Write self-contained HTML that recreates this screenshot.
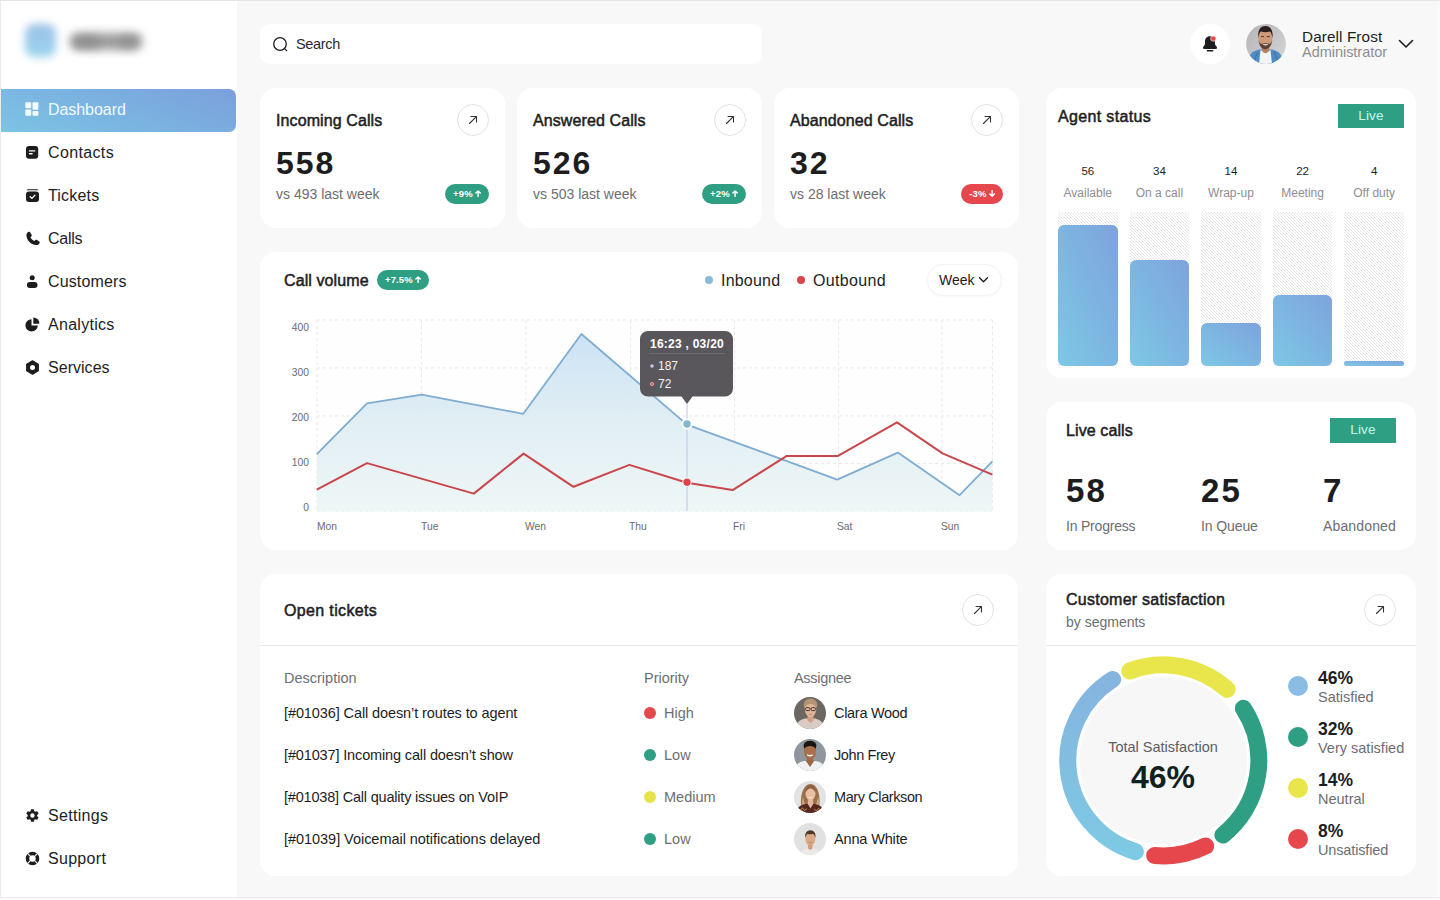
<!DOCTYPE html>
<html lang="en">
<head>
<meta charset="utf-8">
<title>Dashboard</title>
<style>
*{box-sizing:border-box;margin:0;padding:0}
html,body{width:1440px;height:900px;overflow:hidden}
body{font-family:"Liberation Sans",sans-serif;background:#f8f8f8;color:#1d1d1f;position:relative}
.abs{position:absolute}
.t{position:absolute;white-space:nowrap;line-height:1}
/* sidebar */
#side{position:absolute;left:0;top:0;width:237px;height:900px;background:#fff}
.nav{position:absolute;left:0;width:236px;height:43px}
.nav.active{background:linear-gradient(20deg,#7cc4e4 0%,#7ab0e0 55%,#7c9fdb 100%);border-radius:0 7px 7px 0}
.nav svg{position:absolute;left:25px;top:13px;width:15px;height:15px}
.nav span{position:absolute;left:48px;top:11px;font-size:16px;line-height:19px;color:#1d1d1f;white-space:nowrap;letter-spacing:.1px}
.nav.active span{color:#f1fbff}
/* cards */
.card{position:absolute;background:#fff;border-radius:16px}
.h{font-weight:400;font-size:16px;color:#1d1d1f;-webkit-text-stroke:.5px #1d1d1f;letter-spacing:.1px}
.big{font-weight:700;font-size:32px;color:#1d1d1f;letter-spacing:2px}
.sub{font-size:14px;color:#6d6d72}
.circ{position:absolute;width:32px;height:32px;border-radius:50%;border:1px solid #e3e3e3;background:#fff}
.circ svg{position:absolute;left:9px;top:9px;width:12px;height:12px}
.pill{position:absolute;height:20px;border-radius:10px;color:#fff;font-size:9.500px;font-weight:700;line-height:20px;text-align:center;white-space:nowrap;letter-spacing:.1px}
.arw{display:inline-block;width:6.200px;height:7.100px;margin-left:2px;vertical-align:-0.300px}
.green{background:#2f9f83}
.red{background:#e6474d}
.live{position:absolute;background:#2f9f83;color:#c4f7e8;font-size:13.600px;text-align:center;letter-spacing:.1px}
</style>
</head>
<body>
<!-- frame lines -->
<div class="abs" style="left:0;top:0;width:1440px;height:1px;background:#e6e6e6;z-index:9"></div>

<div class="abs" style="left:0;top:897px;width:1440px;height:1px;background:#ececec;z-index:9"></div><div class="abs" style="left:0;top:898px;width:1440px;height:2px;background:#fbfbfb;z-index:9"></div><div class="abs" style="left:1438px;top:0;width:2px;height:900px;background:#fbfbfb;z-index:8"></div>
<!-- SIDEBAR -->
<div id="side">
  <div class="abs" style="left:0;top:0;width:1px;height:900px;background:#ececec;z-index:5"></div>
  <!-- blurred logo -->
  <div class="abs" style="left:25px;top:24px;width:31px;height:33px;border-radius:9px;background:linear-gradient(180deg,#9cc0e7,#9ad4ef);filter:blur(4.200px)"></div>
  <div class="abs" style="left:70px;top:33px;width:72px;height:17px;border-radius:7px;background:#9c9c9c;filter:blur(5px)"></div><div class="abs" style="left:74px;top:36px;width:26px;height:12px;border-radius:6px;background:#8a8a8a;filter:blur(4px);opacity:.7"></div><div class="abs" style="left:118px;top:36px;width:20px;height:12px;border-radius:6px;background:#8a8a8a;filter:blur(4px);opacity:.6"></div>

  <div class="nav active" style="top:89px">
    <svg viewBox="0 0 15 15"><g fill="#f1fbff"><rect x="0.3" y="0.3" width="5.900" height="5.900" rx="1"/><rect x="7.500" y="0.3" width="5.900" height="7.400" rx="1"/><rect x="0.3" y="7.500" width="5.900" height="6.200" rx="1"/><rect x="7.500" y="9" width="5.900" height="4.700" rx="1"/></g></svg>
    <span style="letter-spacing:-0.06px">Dashboard</span>
  </div>
  <div class="nav" style="top:132px">
    <svg viewBox="0 0 15 15"><rect x="1" y="1" width="12.200" height="12.700" rx="3" fill="#1d1d1f"/><rect x="3.800" y="5.200" width="6.600" height="1.400" rx=".7" fill="#fff"/><rect x="3.800" y="8" width="4" height="1.400" rx=".7" fill="#fff"/></svg>
    <span style="letter-spacing:0.36px">Contacts</span>
  </div>
  <div class="nav" style="top:175px">
    <svg viewBox="0 0 15 15"><path d="M3 1.2h9a2 2 0 0 1 1.6 1H1.4a2 2 0 0 1 1.6-1z" fill="#1d1d1f"/><rect x="1" y="3.4" width="13" height="10.6" rx="3" fill="#1d1d1f"/><path d="M5.2 8.8l1.7 1.6 3-3.2" stroke="#fff" stroke-width="1.3" fill="none" stroke-linecap="round" stroke-linejoin="round"/></svg>
    <span style="letter-spacing:0.19px">Tickets</span>
  </div>
  <div class="nav" style="top:218px">
    <svg viewBox="0 0 24 24" style="left:23.500px;top:11.500px;width:17.500px;height:17.500px"><path fill="#1d1d1f" d="M6.6 2.5c.6-.3 1.300-.1 1.700.5l2.200 3.600c.3.600.2 1.300-.2 1.800L8.800 10c1.200 2.200 3 4 5.200 5.200l1.600-1.500c.5-.4 1.200-.5 1.800-.2l3.600 2.200c.6.400.8 1.100.5 1.700-.9 2-2.600 3.600-5 3.300C9.300 19.800 4.200 14.700 3.300 7.500 3 5.100 4.600 3.400 6.600 2.500z"/></svg>
    <span style="letter-spacing:-0.24px">Calls</span>
  </div>
  <div class="nav" style="top:261px">
    <svg viewBox="0 0 15 15"><circle cx="7.200" cy="3.700" r="2.500" fill="#1d1d1f"/><rect x="1.900" y="8" width="10.600" height="6" rx="3" fill="#1d1d1f"/></svg>
    <span style="letter-spacing:0.13px">Customers</span>
  </div>
  <div class="nav" style="top:304px">
    <svg viewBox="0 0 15 15"><path d="M6.500 2.200A6.200 6.200 0 1 0 12.800 8.500H6.500z" fill="#1d1d1f"/><path d="M8.300.6A6 6 0 0 1 14.400 6.700H8.300z" fill="#1d1d1f"/></svg>
    <span style="letter-spacing:0.28px">Analytics</span>
  </div>
  <div class="nav" style="top:347px">
    <svg viewBox="0 0 15 15"><path d="M7.500.8l5.800 3.350v6.700L7.500 14.200 1.700 10.850v-6.700z" fill="#1d1d1f" stroke="#1d1d1f" stroke-width="1.2" stroke-linejoin="round"/><circle cx="7.500" cy="7.500" r="2.500" fill="#fff"/></svg>
    <span style="letter-spacing:0.03px">Services</span>
  </div>
  <div class="nav" style="top:795px">
    <svg viewBox="0 0 24 24"><path fill="#1d1d1f" d="M19.400 13c.04-.33.060-.66.060-1s-.02-.67-.06-1l2.100-1.650a.5.500 0 0 0 .12-.64l-2-3.460a.5.500 0 0 0-.610-.22l-2.490 1a7.300 7.300 0 0 0-1.730-1L14.400 2.420A.5.500 0 0 0 13.900 2h-4a.5.500 0 0 0-.5.420L9.020 5.070c-.63.260-1.200.6-1.730 1l-2.490-1a.5.500 0 0 0-.61.220l-2 3.460a.5.500 0 0 0 .12.640L4.410 11c-.04.330-.06.660-.06 1s.02.670.06 1l-2.100 1.650a.5.500 0 0 0-.12.640l2 3.460c.12.220.39.300.61.220l2.490-1c.53.400 1.100.74 1.730 1l.38 2.650c.04.240.25.420.5.420h4c.25 0 .46-.18.500-.42l.38-2.650c.63-.26 1.200-.6 1.730-1l2.490 1c.22.080.49 0 .61-.22l2-3.460a.5.500 0 0 0-.12-.64zM11.900 15.500a3.500 3.500 0 1 1 0-7 3.500 3.500 0 0 1 0 7z"/></svg>
    <span style="letter-spacing:0.31px">Settings</span>
  </div>
  <div class="nav" style="top:838px">
    <svg viewBox="0 0 15 15"><circle cx="7.500" cy="7.500" r="5" fill="none" stroke="#1d1d1f" stroke-width="3.600"/><g stroke="#fff" stroke-width="1.100"><path d="M2.200 2.200l3 3M12.800 2.200l-3 3M2.200 12.800l3-3M12.800 12.800l-3-3"/></g></svg>
    <span style="letter-spacing:0.3px">Support</span>
  </div>
</div>

<!-- SEARCH -->
<div class="card" style="left:260px;top:24px;width:502px;height:40px;border-radius:10px">
  <svg class="abs" style="left:12px;top:12px" width="17" height="17" viewBox="0 0 17 17"><circle cx="8" cy="8" r="6.300" fill="none" stroke="#1d1d1f" stroke-width="1.300"/><path d="M12.600 12.600l2 2" stroke="#1d1d1f" stroke-width="1.300" stroke-linecap="round"/></svg>
  <div class="t" style="left:36px;top:13px;font-size:14.500px;color:#2a2a2c;letter-spacing:-.35px">Search</div>
</div>


<!-- HEADER RIGHT -->
<div class="abs" style="left:1190px;top:24px;width:40px;height:40px;border-radius:50%;background:#fff"></div>
<svg class="abs" style="left:1201px;top:34px" width="18" height="20" viewBox="0 0 18 20"><path fill="#1d1d1f" d="M9 2.200c-3 0-5 2.200-5 5v2.600c0 .9-.4 1.700-1.100 2.300-.6.500-.9 1-.9 1.600 0 .8.600 1.300 1.400 1.300h11.200c.8 0 1.400-.5 1.400-1.300 0-.6-.3-1.100-.9-1.600-.7-.6-1.100-1.400-1.100-2.300V7.200c0-2.800-2-5-5-5z"/><path d="M6.300 16.800h5.400" stroke="#1d1d1f" stroke-width="1.500" stroke-linecap="round"/><circle cx="12.300" cy="4.600" r="2.700" fill="#e5484d" stroke="#fff" stroke-width=".6"/></svg>
<!-- avatar -->
<svg class="abs" style="left:1246px;top:24px" width="40" height="40" viewBox="0 0 40 40"><defs><clipPath id="cA"><circle cx="20" cy="20" r="19.900"/></clipPath><linearGradient id="gA" x1="0" y1="0" x2="1" y2="1"><stop offset="0" stop-color="#b4b4b7"/><stop offset="1" stop-color="#d6d6d8"/></linearGradient></defs><g clip-path="url(#cA)"><rect width="40" height="40" fill="url(#gA)"/>
<path d="M2 40c0-9 4-13 11-14.500l13 0c7 1.500 11 5.500 11 14.500z" fill="#4f8bc4"/>
<path d="M8 40c.5-5 2-9 4-12M32 40c-.5-5-2-9-4-12" stroke="#3a72ab" stroke-width="1.200" fill="none"/>
<path d="M14.500 26l5 2.500 5-2.500 1.500 14h-13z" fill="#f1f3f5"/>
<path d="M15.800 21h7.400v5.500c-1 1.800-2.400 2.700-3.700 2.700s-2.700-.9-3.700-2.700z" fill="#b9805f"/>
<ellipse cx="19.400" cy="14.500" rx="7" ry="9.600" fill="#cf9a7a"/>
<path d="M12.300 14c-.9-8 2.300-12 7.100-12s8 4 7.100 12c-.5-3.500-1.400-5.600-2.600-6.400-2.800.8-6.200.8-9 0-1.200.8-2.100 2.900-2.600 6.400z" fill="#2a1f1a"/>
<path d="M12.600 16c.3 5.500 3 9.200 6.800 9.200s6.500-3.700 6.800-9.200c-.9 2.700-1.500 3.500-2.300 4-1.300-1-7.700-1-9 0-.8-.5-1.400-1.300-2.300-4z" fill="#4b3328" opacity=".85"/>
<path d="M16.600 19.800c1.800.7 3.800.7 5.600 0-.5 2.100-5.100 2.100-5.600 0z" fill="#fff"/>
<path d="M15 12.600h3M20.800 12.600h3" stroke="#2a1f1a" stroke-width=".8"/>
</g></svg>
<div class="t" style="left:1302px;top:28.600px;font-size:15.300px;color:#1d1d1f;letter-spacing:.1px">Darell Frost</div>
<div class="t" style="left:1302px;top:45px;font-size:14.500px;color:#8d8d92;letter-spacing:-.03px">Administrator</div>
<svg class="abs" style="left:1398px;top:39px" width="16" height="10" viewBox="0 0 16 10"><path d="M1.500 1.500L8 8l6.500-6.500" fill="none" stroke="#1d1d1f" stroke-width="1.600" stroke-linecap="round" stroke-linejoin="round"/></svg>

<!-- STAT CARDS -->
<div class="card" style="left:260px;top:88px;width:245px;height:140px">
  <div class="t h" style="left:16px;top:25px">Incoming Calls</div>
  <div class="circ" style="left:197px;top:16px"><svg viewBox="0 0 12 12"><path d="M2.500 9.500L9.300 2.700M4 2.500h5.500V8" fill="none" stroke="#333" stroke-width="1.100" stroke-linecap="round" stroke-linejoin="round"/></svg></div>
  <div class="t big" style="left:16px;top:59px">558</div>
  <div class="t sub" style="left:16px;top:99px">vs 493 last week</div>
  <div class="pill green" style="left:185px;top:96px;width:44px">+9%<svg class="arw" viewBox="0 0 7 8"><path d="M3.500 7.300V1.200M1 3.500L3.500 1l2.500 2.500" fill="none" stroke="#fff" stroke-width="1.600" stroke-linecap="round" stroke-linejoin="round"/></svg></div>
</div>
<div class="card" style="left:517px;top:88px;width:245px;height:140px">
  <div class="t h" style="left:16px;top:25px">Answered Calls</div>
  <div class="circ" style="left:197px;top:16px"><svg viewBox="0 0 12 12"><path d="M2.500 9.500L9.300 2.700M4 2.500h5.500V8" fill="none" stroke="#333" stroke-width="1.100" stroke-linecap="round" stroke-linejoin="round"/></svg></div>
  <div class="t big" style="left:16px;top:59px">526</div>
  <div class="t sub" style="left:16px;top:99px">vs 503 last week</div>
  <div class="pill green" style="left:185px;top:96px;width:44px">+2%<svg class="arw" viewBox="0 0 7 8"><path d="M3.500 7.300V1.200M1 3.500L3.500 1l2.500 2.500" fill="none" stroke="#fff" stroke-width="1.600" stroke-linecap="round" stroke-linejoin="round"/></svg></div>
</div>
<div class="card" style="left:774px;top:88px;width:245px;height:140px">
  <div class="t h" style="left:16px;top:25px">Abandoned Calls</div>
  <div class="circ" style="left:197px;top:16px"><svg viewBox="0 0 12 12"><path d="M2.500 9.500L9.300 2.700M4 2.500h5.500V8" fill="none" stroke="#333" stroke-width="1.100" stroke-linecap="round" stroke-linejoin="round"/></svg></div>
  <div class="t big" style="left:16px;top:59px">32</div>
  <div class="t sub" style="left:16px;top:99px">vs 28 last week</div>
  <div class="pill red" style="left:187px;top:96px;width:42px">-3%<svg class="arw" viewBox="0 0 7 8"><path d="M3.500 .7v6.100M1 4.500L3.500 7l2.500-2.500" fill="none" stroke="#fff" stroke-width="1.600" stroke-linecap="round" stroke-linejoin="round"/></svg></div>
</div>

<!-- CALL VOLUME -->
<div class="card" style="left:260px;top:252px;width:758px;height:298px"></div>
<div class="t h" style="left:284px;top:272.500px">Call volume</div>
<div class="pill green" style="left:377px;top:269.500px;width:52px;height:20.500px;line-height:20.500px">+7.5%<svg class="arw" viewBox="0 0 7 8"><path d="M3.500 7.300V1.200M1 3.500L3.500 1l2.500 2.500" fill="none" stroke="#fff" stroke-width="1.600" stroke-linecap="round" stroke-linejoin="round"/></svg></div>
<div class="abs" style="left:705px;top:276px;width:8px;height:8px;border-radius:50%;background:#8bbbd6"></div>
<div class="t" style="left:721px;top:273px;font-size:16px;letter-spacing:.2px">Inbound</div>
<div class="abs" style="left:797px;top:276px;width:8px;height:8px;border-radius:50%;background:#d9454b"></div>
<div class="t" style="left:813px;top:273px;font-size:16px;letter-spacing:.35px">Outbound</div>
<div class="abs" style="left:927px;top:264px;width:75px;height:32px;border-radius:16px;background:#fff;border:1px solid #f4f4f4;box-shadow:0 1px 3px rgba(0,0,0,.03)"></div>
<div class="t" style="left:939px;top:273px;font-size:14px;color:#1d1d1f">Week</div>
<svg class="abs" style="left:978px;top:276px" width="11" height="8" viewBox="0 0 11 8"><path d="M1.500 1.800L5.500 5.800l4-4" fill="none" stroke="#1d1d1f" stroke-width="1.400" stroke-linecap="round" stroke-linejoin="round"/></svg>
<style>.ax{font-size:10.300px;color:#6a6a6e}</style>
<div class="t ax" style="left:270px;width:39px;text-align:right;top:323px">400</div><div class="t ax" style="left:270px;width:39px;text-align:right;top:368px">300</div><div class="t ax" style="left:270px;width:39px;text-align:right;top:413px">200</div><div class="t ax" style="left:270px;width:39px;text-align:right;top:458px">100</div><div class="t ax" style="left:270px;width:39px;text-align:right;top:503px">0</div><div class="t ax" style="left:317px;top:522px">Mon</div><div class="t ax" style="left:421px;top:522px">Tue</div><div class="t ax" style="left:525px;top:522px">Wen</div><div class="t ax" style="left:629px;top:522px">Thu</div><div class="t ax" style="left:733px;top:522px">Fri</div><div class="t ax" style="left:837px;top:522px">Sat</div><div class="t ax" style="left:941px;top:522px">Sun</div>
<svg class="abs" style="left:0;top:0" width="1440" height="900" viewBox="0 0 1440 900">
  <defs><linearGradient id="ga" x1="0" y1="333" x2="0" y2="511" gradientUnits="userSpaceOnUse"><stop offset="0" stop-color="#c6dff3" stop-opacity=".9"/><stop offset=".5" stop-color="#dcecf3" stop-opacity=".85"/><stop offset="1" stop-color="#edf6f5" stop-opacity=".9"/></linearGradient></defs>
  <rect x="317" y="320" width="675.500" height="191" fill="#fefefe"/>
  <g stroke="#e9e9e9" stroke-width="1" stroke-dasharray="3 3"><line x1="317" y1="320" x2="317" y2="511"/><line x1="421.5" y1="320" x2="421.5" y2="511"/><line x1="526" y1="320" x2="526" y2="511"/><line x1="630.5" y1="320" x2="630.5" y2="511"/><line x1="734.5" y1="320" x2="734.5" y2="511"/><line x1="838.5" y1="320" x2="838.5" y2="511"/><line x1="942" y1="320" x2="942" y2="511"/><line x1="992.5" y1="320" x2="992.5" y2="511"/><line x1="317" y1="320" x2="992.5" y2="320"/><line x1="317" y1="368" x2="992.5" y2="368"/><line x1="317" y1="416" x2="992.5" y2="416"/><line x1="317" y1="463.5" x2="992.5" y2="463.5"/><line x1="317" y1="511" x2="992.5" y2="511"/></g>
  <g transform="translate(0,.6)"><path d="M316.8 453.6 L367.0 402.7 L421.7 394.1 L523.3 413.2 L581.4 333.4 L687.0 424.0 L837.3 479.0 L897.8 452.0 L959.6 494.6 L992.4 460.8 L992.4 511 L316.8 511 Z" fill="url(#ga)"/>
  <polyline points="316.8,453.6 367.0,402.7 421.7,394.1 523.3,413.2 581.4,333.4 687.0,424.0 837.3,479.0 897.8,452.0 959.6,494.6 992.4,460.8" fill="none" stroke="#7eacd2" stroke-width="1.800" stroke-linejoin="round"/>
  <polyline points="316.8,489.0 367.0,462.5 473.8,493.0 523.6,453.0 573.5,486.2 629.4,464.3 687.0,482.2 732.6,489.5 786.4,455.5 837.6,455.5 897.0,421.7 942.5,452.8 992.4,474.0" fill="none" stroke="#c9464b" stroke-width="2" stroke-linejoin="round"/>
  </g><line x1="687" y1="404" x2="687" y2="511" stroke="#c9c8ee" stroke-width="1.200"/>
  <circle cx="687" cy="424" r="4.600" fill="#86b6cf" stroke="#fff" stroke-width="1.800"/>
  <circle cx="687" cy="482.200" r="4.200" fill="#dc444a" stroke="#fff" stroke-width="1"/>
  <path d="M648 331h77a8 8 0 0 1 8 8v49.500a8 8 0 0 1-8 8h-32.500l-5.500 7.500-5.500-7.500H648a8 8 0 0 1-8-8V339a8 8 0 0 1 8-8z" fill="#5a575c"/>
  <line x1="649" y1="353.500" x2="725" y2="353.500" stroke="#6e6b70" stroke-width="1"/>
  <circle cx="652" cy="366" r="1.800" fill="#c9c6e6"/>
  <circle cx="652" cy="384" r="1.600" fill="#e0565c" stroke="#f0b0b4" stroke-width=".8"/>
</svg>
<div class="t" style="left:650px;top:338px;font-size:12px;font-weight:700;color:#fff;letter-spacing:.25px">16:23 , 03/20</div>
<div class="t" style="left:658px;top:360px;font-size:12px;color:#f3f3f3">187</div>
<div class="t" style="left:658px;top:378px;font-size:12px;color:#f3f3f3">72</div>

<!-- AGENT STATUS -->
<style>
.hatch{background:repeating-linear-gradient(45deg,#fff 0,#fff 1.150px,#e6e6e6 1.150px,#e6e6e6 2.121px)}
.bar{background:linear-gradient(to top right,#7cc8e5 0%,#7db5e1 50%,#7ea3dc 100%)}
</style>
<div class="card" style="left:1046px;top:88px;width:370px;height:290px"></div>
<div class="t h" style="left:1058px;top:108.500px;letter-spacing:.35px">Agent status</div>
<div class="live" style="left:1338px;top:103.600px;width:66px;height:24.200px;line-height:24.200px">Live</div>
<div class="t" style="left:1047.8px;width:80px;text-align:center;top:165.600px;font-size:11.500px;color:#1d1d1f">56</div><div class="t" style="left:1047.8px;width:80px;text-align:center;top:187px;font-size:12px;color:#8e8e93">Available</div><div class="abs hatch" style="left:1058.0px;top:212px;width:59.6px;height:154px"></div><div class="abs bar" style="left:1058.0px;top:224.7px;width:59.6px;height:141.3px;border-radius:6px"></div><div class="t" style="left:1119.4px;width:80px;text-align:center;top:165.600px;font-size:11.500px;color:#1d1d1f">34</div><div class="t" style="left:1119.4px;width:80px;text-align:center;top:187px;font-size:12px;color:#8e8e93">On a call</div><div class="abs hatch" style="left:1129.6px;top:212px;width:59.6px;height:154px"></div><div class="abs bar" style="left:1129.6px;top:259.8px;width:59.6px;height:106.2px;border-radius:6px"></div><div class="t" style="left:1191.0px;width:80px;text-align:center;top:165.600px;font-size:11.500px;color:#1d1d1f">14</div><div class="t" style="left:1191.0px;width:80px;text-align:center;top:187px;font-size:12px;color:#8e8e93">Wrap-up</div><div class="abs hatch" style="left:1201.2px;top:212px;width:59.6px;height:154px"></div><div class="abs bar" style="left:1201.2px;top:322.9px;width:59.6px;height:43.1px;border-radius:6px"></div><div class="t" style="left:1262.6px;width:80px;text-align:center;top:165.600px;font-size:11.500px;color:#1d1d1f">22</div><div class="t" style="left:1262.6px;width:80px;text-align:center;top:187px;font-size:12px;color:#8e8e93">Meeting</div><div class="abs hatch" style="left:1272.8px;top:212px;width:59.6px;height:154px"></div><div class="abs bar" style="left:1272.8px;top:295px;width:59.6px;height:71.0px;border-radius:6px"></div><div class="t" style="left:1334.2px;width:80px;text-align:center;top:165.600px;font-size:11.500px;color:#1d1d1f">4</div><div class="t" style="left:1334.2px;width:80px;text-align:center;top:187px;font-size:12px;color:#8e8e93">Off duty</div><div class="abs hatch" style="left:1344.4px;top:212px;width:59.6px;height:154px"></div><div class="abs bar" style="left:1344.4px;top:361px;width:59.6px;height:5.0px;border-radius:2.5px"></div>
<!-- LIVE CALLS -->
<div class="card" style="left:1046px;top:402px;width:370px;height:148px"></div>
<div class="t h" style="left:1066px;top:423px">Live calls</div>
<div class="live" style="left:1330px;top:418px;width:66px;height:24.600px;line-height:24.600px">Live</div>
<div class="t big" style="left:1066px;top:474px;font-size:33px;letter-spacing:2.200px">58</div>
<div class="t big" style="left:1201px;top:474px;font-size:33px;letter-spacing:2.200px">25</div>
<div class="t big" style="left:1323px;top:474px;font-size:33px;letter-spacing:2.200px">7</div>
<div class="t sub" style="left:1066px;top:518.500px;letter-spacing:-.2px">In Progress</div>
<div class="t sub" style="left:1201px;top:518.500px;letter-spacing:-.1px">In Queue</div>
<div class="t sub" style="left:1323px;top:518.500px;letter-spacing:.15px">Abandoned</div>

<!-- OPEN TICKETS -->
<style>.row{font-size:14.500px;color:#1d1d1f}</style>
<div class="card" style="left:260px;top:574px;width:758px;height:302px"></div>
<div class="t h" style="left:284px;top:603px;letter-spacing:.35px">Open tickets</div>
<div class="circ" style="left:962px;top:594px"><svg viewBox="0 0 12 12"><path d="M2.500 9.500L9.300 2.700M4 2.500h5.500V8" fill="none" stroke="#333" stroke-width="1.100" stroke-linecap="round" stroke-linejoin="round"/></svg></div>
<div class="abs" style="left:260px;top:645px;width:758px;height:1px;background:#e6e6e6"></div>
<div class="t" style="left:284px;top:671px;font-size:14.500px;color:#6e6e73">Description</div>
<div class="t" style="left:644px;top:671px;font-size:14.500px;color:#6e6e73">Priority</div>
<div class="t" style="left:794px;top:671px;font-size:14.500px;color:#6e6e73;letter-spacing:-0.3px">Assignee</div>
<div class="t row" style="left:284px;top:706px;letter-spacing:-0.1px">[#01036] Call doesn’t routes to agent</div><div class="abs" style="left:644px;top:707px;width:12px;height:12px;border-radius:50%;background:#e5484d"></div><div class="t" style="left:664px;top:706px;font-size:14.500px;color:#6e6e73">High</div><svg class="abs" style="left:794px;top:697px" width="32" height="32" viewBox="0 0 32 32"><defs><clipPath id="cp0"><circle cx="16" cy="16" r="16"/></clipPath></defs><g clip-path="url(#cp0)"><rect width="32" height="32" fill="#6c6760"/><path d="M2 32c0-6.500 4-9.500 9-10.500h10c5 1 9 4 9 10.500z" fill="#d8ccc5"/><path d="M13.500 18h6v5.500l-3 2.500-3-2.500z" fill="#cfa085"/><ellipse cx="16.500" cy="7.800" rx="6.900" ry="6.300" fill="#b39372"/><ellipse cx="16.500" cy="12.200" rx="5.700" ry="8" fill="#dfb59b"/><path d="M10.800 10.500c.3-4.300 2.600-6.300 5.700-6.300s5.400 2 5.700 6.300c-1.500-2.600-3.200-3.600-5.700-3.600s-4.200 1-5.700 3.600z" fill="#b39372"/><rect x="11.600" y="10.600" width="4.200" height="3" rx="1" fill="none" stroke="#3a2a22" stroke-width=".9"/><rect x="17.200" y="10.600" width="4.200" height="3" rx="1" fill="none" stroke="#3a2a22" stroke-width=".9"/><path d="M14.800 17c1 .6 2.400.6 3.400 0" stroke="#a9705c" stroke-width=".7" fill="none"/></g></svg><div class="t row" style="left:834px;top:706px;letter-spacing:-0.3px">Clara Wood</div><div class="t row" style="left:284px;top:748px;letter-spacing:-0.14px">[#01037] Incoming call doesn’t show</div><div class="abs" style="left:644px;top:749px;width:12px;height:12px;border-radius:50%;background:#2f9f83"></div><div class="t" style="left:664px;top:748px;font-size:14.500px;color:#6e6e73">Low</div><svg class="abs" style="left:794px;top:739px" width="32" height="32" viewBox="0 0 32 32"><defs><clipPath id="cp1"><circle cx="16" cy="16" r="16"/></clipPath></defs><g clip-path="url(#cp1)"><rect width="32" height="32" fill="#8f969d"/><path d="M1 32c0-6.500 4-9 9-10h12c5 1 9 3.500 9 10z" fill="#eef0f2"/><path d="M11.500 21.500l4.500 6.500 4.500-6.500z" fill="#9c6443"/><path d="M13 17.500h6v5l-3 2-3-2z" fill="#9c6443"/><ellipse cx="16" cy="6.800" rx="6.400" ry="5" fill="#1b1512"/><ellipse cx="16" cy="12.800" rx="6" ry="8.200" fill="#aa704b"/><path d="M10.200 10c.2-4 2.600-6 5.800-6s5.600 2 5.800 6c-1.500-2.300-3.300-3-5.800-3s-4.300.7-5.800 3z" fill="#1b1512"/><path d="M12.800 15.300c2 1 4.400 1 6.400 0-.5 3-5.900 3-6.400 0z" fill="#fff"/></g></svg><div class="t row" style="left:834px;top:748px;letter-spacing:-0.4px">John Frey</div><div class="t row" style="left:284px;top:790px;letter-spacing:-0.2px">[#01038] Call quality issues on VoIP</div><div class="abs" style="left:644px;top:791px;width:12px;height:12px;border-radius:50%;background:#e6e34a"></div><div class="t" style="left:664px;top:790px;font-size:14.500px;color:#6e6e73">Medium</div><svg class="abs" style="left:794px;top:781px" width="32" height="32" viewBox="0 0 32 32"><defs><clipPath id="cp2"><circle cx="16" cy="16" r="16"/></clipPath></defs><g clip-path="url(#cp2)"><rect width="32" height="32" fill="#e3e3e3"/><path d="M7.500 27c-2-8 .5-24 9-24s10.500 16 8 24z" fill="#9a6e4a"/><path d="M8 27c-.8-3 0-8 1-11l2.500 9zM25 27c.8-3 0-8-1-11l-2.500 9z" fill="#c9a278"/><path d="M2.500 32c0-5.500 4-8 9-9h9.500c5 1 8.500 3.500 8.500 9z" fill="#55281f"/><path d="M6 29l2.500-2 2 2.500 2.500-2M20 28l2.500 2 2-2.500 2.500 1.500" stroke="#c98a55" stroke-width="1" fill="none"/><path d="M13.800 19h5.400v4l-2.700 4.500-2.700-4.500z" fill="#e3b79b"/><ellipse cx="16.500" cy="12.500" rx="5" ry="7" fill="#e9bfa4"/><path d="M11.500 12c-.3-5 2-7.500 5-7.500s5.300 2.500 5 7.500c-1.200-3-2.800-4.500-5-4.500s-3.800 1.500-5 4.500z" fill="#8a5f3f"/><path d="M14.300 15.800c1.400.9 3 .9 4.400 0-.5 1.800-3.900 1.800-4.400 0z" fill="#fff"/></g></svg><div class="t row" style="left:834px;top:790px;letter-spacing:-0.4px">Mary Clarkson</div><div class="t row" style="left:284px;top:832px;letter-spacing:-0.04px">[#01039] Voicemail notifications delayed</div><div class="abs" style="left:644px;top:833px;width:12px;height:12px;border-radius:50%;background:#2f9f83"></div><div class="t" style="left:664px;top:832px;font-size:14.500px;color:#6e6e73">Low</div><svg class="abs" style="left:794px;top:823px" width="32" height="32" viewBox="0 0 32 32"><defs><clipPath id="cp3"><circle cx="16" cy="16" r="16"/></clipPath></defs><g clip-path="url(#cp3)"><rect width="32" height="32" fill="#e1e2e0"/><path d="M7 32c0-4.500 3-6.500 7-7h4.500c4 .5 7 2.500 7 7z" fill="#e9e9e6"/><path d="M14 21h4.500v4.500l-2.200 1.500-2.300-1.500z" fill="#d39c7b"/><ellipse cx="16.300" cy="16" rx="5" ry="6.600" fill="#dba988"/><path d="M11.200 15c-.7-5 1.800-7.800 5.200-7.800s5.800 2.800 5 7.800c-.8-2.500-1.500-3.600-2.600-4.200-1.800.7-3.700.7-5 0-1.100.6-1.800 1.700-2.600 4.200z" fill="#4e3626"/><path d="M14.500 19.300c1.200.6 2.400.6 3.600 0" stroke="#a9705c" stroke-width=".7" fill="none"/></g></svg><div class="t row" style="left:834px;top:832px;letter-spacing:-0.15px">Anna White</div>

<!-- CUSTOMER SATISFACTION -->
<div class="card" style="left:1046px;top:574px;width:370px;height:302px"></div>
<div class="t h" style="left:1066px;top:592px;letter-spacing:.25px">Customer satisfaction</div>
<div class="t" style="left:1066px;top:615px;font-size:14px;color:#6d6d72">by segments</div>
<div class="circ" style="left:1364px;top:594px"><svg viewBox="0 0 12 12"><path d="M2.500 9.500L9.300 2.700M4 2.500h5.500V8" fill="none" stroke="#333" stroke-width="1.100" stroke-linecap="round" stroke-linejoin="round"/></svg></div>
<div class="abs" style="left:1046px;top:645px;width:370px;height:1px;background:#e6e6e6"></div>
<svg class="abs" style="left:0;top:0" width="1440" height="900" viewBox="0 0 1440 900">
<defs><linearGradient id="gb" x1="0" y1="670" x2="0" y2="860" gradientUnits="userSpaceOnUse"><stop offset="0" stop-color="#86b3df"/><stop offset="1" stop-color="#7ecae4"/></linearGradient></defs>
<circle cx="1163.3" cy="760.4" r="84" fill="#f7f7f7"/>
<path d="M1135.38 851.73A95.5 95.5 0 0 1 1112.69 679.41" fill="none" stroke="url(#gb)" stroke-width="17" stroke-linecap="round"/><path d="M1129.70 671.01A95.5 95.5 0 0 1 1227.20 689.43" fill="none" stroke="#e9e64b" stroke-width="17" stroke-linecap="round"/><path d="M1243.39 708.39A95.5 95.5 0 0 1 1222.88 835.04" fill="none" stroke="#2f9f83" stroke-width="17" stroke-linecap="round"/><path d="M1205.76 845.94A95.5 95.5 0 0 1 1154.64 855.51" fill="none" stroke="#e5474c" stroke-width="17" stroke-linecap="round"/>
</svg>
<div class="t" style="left:1083px;width:160px;text-align:center;top:740px;font-size:14.500px;color:#5d5d62">Total Satisfaction</div>
<div class="t" style="left:1083px;width:160px;text-align:center;top:760.700px;font-size:32px;font-weight:700;color:#11211d">46%</div>
<div class="abs" style="left:1288px;top:676px;width:20px;height:20px;border-radius:50%;background:#8bbce3"></div><div class="t" style="left:1318px;top:670.2px;font-size:17.500px;font-weight:700;color:#1d1d1f">46%</div><div class="t" style="left:1318px;top:690px;font-size:14.500px;color:#6d6d72">Satisfied</div><div class="abs" style="left:1288px;top:727px;width:20px;height:20px;border-radius:50%;background:#2f9f83"></div><div class="t" style="left:1318px;top:721.2px;font-size:17.500px;font-weight:700;color:#1d1d1f">32%</div><div class="t" style="left:1318px;top:741px;font-size:14.500px;color:#6d6d72">Very satisfied</div><div class="abs" style="left:1288px;top:778px;width:20px;height:20px;border-radius:50%;background:#e9e64b"></div><div class="t" style="left:1318px;top:772.2px;font-size:17.500px;font-weight:700;color:#1d1d1f">14%</div><div class="t" style="left:1318px;top:792px;font-size:14.500px;color:#6d6d72">Neutral</div><div class="abs" style="left:1288px;top:829px;width:20px;height:20px;border-radius:50%;background:#e5474c"></div><div class="t" style="left:1318px;top:823.2px;font-size:17.500px;font-weight:700;color:#1d1d1f">8%</div><div class="t" style="left:1318px;top:843px;font-size:14.500px;color:#6d6d72;letter-spacing:-.15px">Unsatisfied</div>



<!--MAIN-->
</body>
</html>
